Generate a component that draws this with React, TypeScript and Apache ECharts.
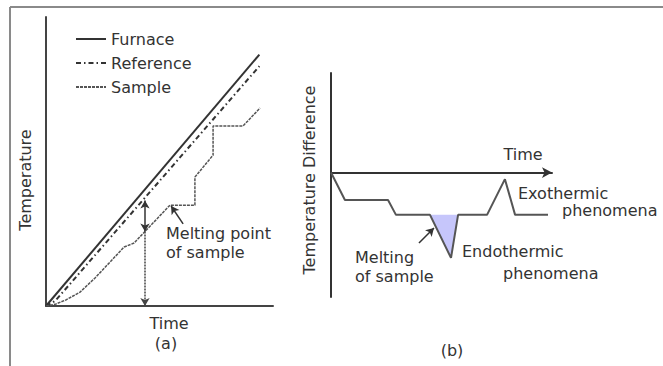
import React, { useEffect, useRef } from "react";
import * as echarts from "echarts";

// Panel (a): time (0-100) vs temperature (0-100)
const furnaceX = [0, 94];
const furnaceY = [0, 87];
const referenceX = [0, 4, 94];
const referenceY = [0, 1.7, 83];
const sampleX = [0, 4.4, 8.8, 15.0, 21.6, 28.2, 34.4, 38.8, 54.6, 65.6, 65.6, 73.6, 73.6, 86.8, 94.3];
const sampleY = [0, 0.7, 2.1, 4.8, 9.7, 15.2, 20.4, 21.8, 34.9, 34.9, 44.6, 52.2, 62.3, 62.3, 68.5];
const gapArrow = { x: 43.6, top: 36.5, mid: 25.8, bottom: 0 };
const meltPointer = { from: [60.4, 28.4], to: [55.1, 34.6] };

// Panel (b): time (0-100) vs temperature difference (-100..80)
const dtaX = [0, 6.3, 25.8, 29.4, 44.8, 54.3, 57.5, 70.6, 78.7, 83.3, 98.2];
const dtaY = [0, -22, -22, -34, -34, -68.6, -34, -34, -5.3, -34, -34];
const meltPeakX = [44.8, 54.3, 57.5];
const meltPeakY = [-34, -68.6, -34];
const meltingPointer = { from: [39.8, -56.6], to: [46.6, -44.5] };

const legendNames = ["Furnace", "Reference", "Sample"];

const FONT = "DejaVu Sans";
const TXT = "#333";

function txt(text: string, x: number, y: number, align = "left", rotation = 0) {
  return {
    type: "text",
    x,
    y,
    rotation,
    silent: true,
    style: {
      text,
      fontFamily: FONT,
      fontSize: 16,
      fill: TXT,
      align,
      verticalAlign: "middle",
    },
  };
}

export default function App() {
  const ref = useRef<HTMLDivElement>(null);
  useEffect(() => {
    const chart = echarts.init(ref.current!, null, { renderer: "svg" });
    const zip = (xs: number[], ys: number[]) => xs.map((x, i) => [x, ys[i]]);
    const option: any = {
      animation: false,
      backgroundColor: "#fff",
      grid: [
        { left: 46, top: 17, width: 227, height: 289 },
        { left: 331, top: 73, width: 221, height: 224 },
      ],
      xAxis: [
        {
          gridIndex: 0, type: "value", min: 0, max: 100,
          axisLine: { show: true, lineStyle: { color: "#444", width: 2 } },
          axisTick: { show: false }, axisLabel: { show: false }, splitLine: { show: false },
        },
        {
          gridIndex: 1, type: "value", min: 0, max: 100,
          axisLine: {
            show: true, onZero: true, symbol: ["none", "arrow"], symbolSize: [8, 10],
            lineStyle: { color: "#333", width: 2 },
          },
          axisTick: { show: false }, axisLabel: { show: false }, splitLine: { show: false },
        },
      ],
      yAxis: [
        {
          gridIndex: 0, type: "value", min: 0, max: 100,
          axisLine: { show: true, lineStyle: { color: "#444", width: 2 } },
          axisTick: { show: false }, axisLabel: { show: false }, splitLine: { show: false },
        },
        {
          gridIndex: 1, type: "value", min: -100, max: 80,
          axisLine: { show: true, lineStyle: { color: "#333", width: 2 } },
          axisTick: { show: false }, axisLabel: { show: false }, splitLine: { show: false },
        },
      ],
      legend: {
        orient: "vertical",
        left: 70,
        top: 25,
        itemWidth: 30,
        itemHeight: 10,
        itemGap: 6,
        selectedMode: false,
        data: legendNames,
        itemStyle: { opacity: 0 },
        textStyle: { fontFamily: FONT, fontSize: 16, color: TXT, lineHeight: 18 },
      },
      series: [
        {
          name: legendNames[0], type: "line", xAxisIndex: 0, yAxisIndex: 0,
          data: zip(furnaceX, furnaceY), symbol: "none",
          lineStyle: { color: "#333", width: 2, type: "solid" },
          itemStyle: { color: "#333" },
        },
        {
          name: legendNames[1], type: "line", xAxisIndex: 0, yAxisIndex: 0,
          data: zip(referenceX, referenceY), symbol: "none",
          lineStyle: { color: "#333", width: 2, type: [5, 3, 1.5, 3] },
          itemStyle: { color: "#333" },
        },
        {
          name: legendNames[2], type: "line", xAxisIndex: 0, yAxisIndex: 0,
          data: zip(sampleX, sampleY), symbol: "none",
          lineStyle: { color: "#555", width: 1.5, type: [3, 1] },
          itemStyle: { color: "#555" },
          markLine: {
            silent: true,
            symbolSize: [7, 8],
            label: { show: false },
            emphasis: { disabled: true },
            data: [
              [
                { coord: [gapArrow.x, gapArrow.top], symbol: "arrow", lineStyle: { color: "#333", width: 1.5, type: "solid" } },
                { coord: [gapArrow.x, gapArrow.mid], symbol: "arrow" },
              ],
              [
                { coord: [gapArrow.x, gapArrow.mid], symbol: "none", lineStyle: { color: "#444", width: 1.5, type: [2, 1] } },
                { coord: [gapArrow.x, gapArrow.bottom], symbol: "arrow" },
              ],
              [
                { coord: meltPointer.from, symbol: "none", lineStyle: { color: "#333", width: 1.5, type: "solid" } },
                { coord: meltPointer.to, symbol: "arrow" },
              ],
            ],
          },
        },
        {
          name: "melting-peak", type: "custom", xAxisIndex: 1, yAxisIndex: 1, z: 1,
          data: [[meltPeakX[0], meltPeakY[0]]],
          renderItem: (_params: any, api: any) => ({
            type: "polygon",
            shape: { points: meltPeakX.map((x, i) => api.coord([x, meltPeakY[i]])) },
            style: { fill: "#c6c6fb", stroke: "none" },
          }),
          silent: true,
        },
        {
          name: "dta", type: "line", xAxisIndex: 1, yAxisIndex: 1, z: 3,
          data: zip(dtaX, dtaY), symbol: "none",
          lineStyle: { color: "#555", width: 2 },
          markLine: {
            silent: true,
            symbolSize: [7, 8],
            label: { show: false },
            emphasis: { disabled: true },
            data: [
              [
                { coord: meltingPointer.from, symbol: "none", lineStyle: { color: "#333", width: 1.5, type: "solid" } },
                { coord: meltingPointer.to, symbol: "arrow" },
              ],
            ],
          },
        },
      ],
      graphic: [
        { type: "line", silent: true, shape: { x1: 10, y1: 7, x2: 663, y2: 7 }, style: { stroke: "#8a8a8a", lineWidth: 2 } },
        { type: "line", silent: true, shape: { x1: 10, y1: 7, x2: 10, y2: 366 }, style: { stroke: "#8a8a8a", lineWidth: 2 } },
        txt("Temperature", 25.5, 180, "center", Math.PI / 2),
        txt("Time", 169, 323, "center"),
        txt("(a)", 166, 343, "center"),
        txt("Melting point", 166, 233),
        txt("of sample", 166, 252),
        txt("Temperature Difference", 309, 180, "center", Math.PI / 2),
        txt("Time", 523, 154, "center"),
        txt("Exothermic", 518, 193),
        txt("phenomena", 562, 210),
        txt("Endothermic", 462, 251),
        txt("phenomena", 503, 273),
        txt("Melting", 355, 257),
        txt("of sample", 355, 276),
        txt("(b)", 452, 350, "center"),
      ],
    };
    chart.setOption(option);
    return () => chart.dispose();
  }, []);
  return (
    <div
      ref={ref}
      style={{ position: "fixed", left: 0, top: 0, width: 663, height: 366, background: "#fff" }}
    />
  );
}
